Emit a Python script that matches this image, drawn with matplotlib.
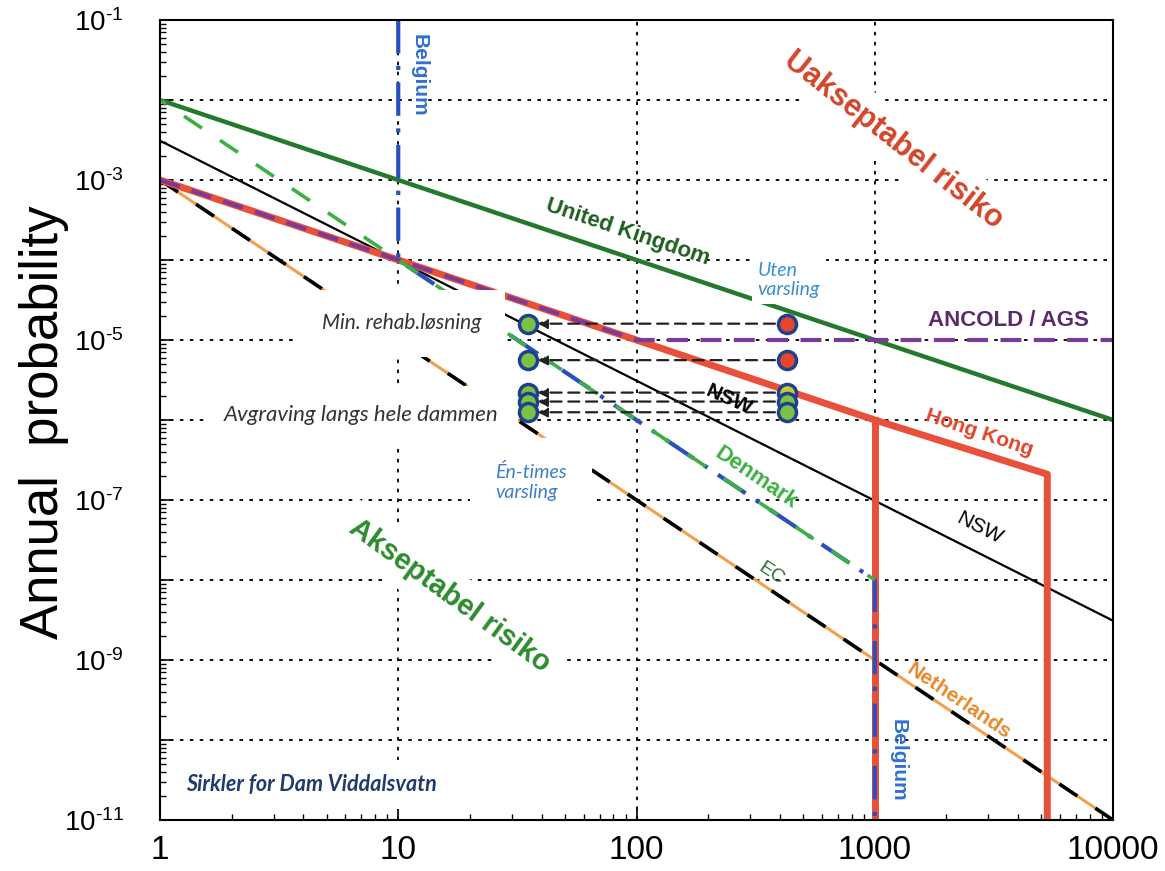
import math
import matplotlib.pyplot as plt
from matplotlib.ticker import LogLocator, FuncFormatter, NullFormatter

plt.rcParams['font.family'] = ['Liberation Sans', 'DejaVu Sans']
plt.rcParams['mathtext.fontset'] = 'custom'
plt.rcParams['mathtext.rm'] = 'Liberation Sans'

# F-N criteria lines (number of fatalities N, annual probability)
uk_n = [1, 10000]
uk_p = [1e-2, 1e-6]

hk_n = [1, 1000, 5300, 5300]
hk_p = [1e-3, 1e-6, 2.1e-7, 1e-11]
hk_drop_n = [1000, 1000]
hk_drop_p = [1e-6, 1e-11]

ancold_n = [1, 100, 10000]
ancold_p = [1e-3, 1e-5, 1e-5]

nsw_n = [1, 10000]
nsw_p = [3.1e-3, 3.1e-9]

denmark_n = [1, 1000]
denmark_p = [1e-2, 1e-8]

belgium_n = [10, 10, 1000, 1000]
belgium_p = [1e-1, 1e-4, 1e-8, 1e-11]

netherlands_n = [1, 10000]
netherlands_p = [1e-3, 1e-11]

# Dam Viddalsvatn points: one-hour warning (left) vs no warning (right)
dam_n_warning = 35
dam_n_no_warning = 430
dam_p = [1.6e-5, 5.6e-6, 2.2e-6, 1.7e-6, 1.25e-6]
dam_colors_no_warning = ['#e8452c', '#e8452c', '#c9c83a', '#7cc242', '#7cc242']

y_ticks = [10.0 ** e for e in range(-11, 0)]
x_ticks = [1, 10, 100, 1000, 10000]


def y_label(v, pos):
    e = int(round(math.log10(v)))
    if e % 2 == 0:
        return ''
    return '$\\mathregular{10^{\u2010%d}}$' % (-e)


def main():
    fig = plt.figure(figsize=(11.65, 8.71), dpi=100)
    ax = fig.add_axes([160 / 1165, 51 / 871, 953 / 1165, 800 / 871])
    ax.set_xscale('log')
    ax.set_yscale('log')
    ax.set_xlim(1, 10000)
    ax.set_ylim(1e-11, 1e-1)

    # lines
    ax.plot(uk_n, uk_p, color='#237a2c', lw=3.2, zorder=2)
    ax.plot(nsw_n, nsw_p, color='black', lw=1.6, zorder=2)
    ax.plot(netherlands_n, netherlands_p, color='#f2a04c', lw=2.2, zorder=2)
    ax.plot(netherlands_n, netherlands_p, color='black', lw=2.6,
            ls=(0, (6, 6)), zorder=2.1)
    ax.plot(hk_n, hk_p, color='#e8503a', lw=5, zorder=2.2)
    ax.plot(hk_drop_n, hk_drop_p, color='#e8503a', lw=5, zorder=2.2)
    ax.plot(ancold_n, ancold_p, color='#7a3a9a', lw=3, ls=(0, (5, 3)),
            zorder=2.3)
    ax.plot(belgium_n, belgium_p, color='#2a4fc0', lw=3,
            ls=(0, (8, 3, 1, 3)), zorder=2.4)
    ax.plot(denmark_n, denmark_p, color='#3cb043', lw=2.6,
            ls=(4, (6, 6)), zorder=2.5)

    # dam points with arrows
    for p, c in zip(dam_p, dam_colors_no_warning):
        ax.annotate('', xy=(dam_n_warning, p), xytext=(dam_n_no_warning, p),
                    arrowprops=dict(arrowstyle='-|>', color='#222222', lw=1.6,
                                    ls=(0, (5, 3)), shrinkA=9, shrinkB=7,
                                    mutation_scale=14),
                    zorder=5)
        ax.plot(dam_n_warning, p, 'o', ms=13, mfc='#7cc242', mec='#1f3f8f',
                mew=2.5, zorder=6)
        ax.plot(dam_n_no_warning, p, 'o', ms=13, mfc=c, mec='#1f3f8f',
                mew=2.5, zorder=6)

    # axes styling
    ax.set_xticks(x_ticks)
    ax.set_xticklabels([str(v) for v in x_ticks])
    ax.set_yticks(y_ticks)
    ax.yaxis.set_major_formatter(FuncFormatter(y_label))
    ax.xaxis.set_minor_locator(LogLocator(base=10, subs=range(2, 10), numticks=20))
    ax.yaxis.set_minor_locator(LogLocator(base=10, subs=range(2, 10), numticks=20))
    ax.xaxis.set_minor_formatter(NullFormatter())
    ax.yaxis.set_minor_formatter(NullFormatter())
    ax.tick_params(which='major', direction='in', length=8, width=1.2)
    ax.tick_params(which='minor', direction='in', length=4, width=1)
    ax.tick_params(axis='y', pad=26, labelsize=20)
    ax.tick_params(axis='x', pad=11, labelsize=24)
    for s in ax.spines.values():
        s.set_linewidth(1.5)
    ax.set_axisbelow(True)
    ax.grid(True, which='major', color='black', lw=1.3, ls=(0, (2, 3.5)))

    fig.text(44 / 1165, 0.515, 'Annual  probability', rotation=90,
             ha='center', va='center', fontsize=38)

    # annotations
    white = dict(facecolor='white', edgecolor='none')
    ax.text(1200, 10 ** -2.5, 'Uakseptabel risiko', color='#d2462a',
            fontsize=22, fontweight='bold', rotation=-38, ha='center',
            va='center', bbox=dict(white, pad=8), zorder=4)
    ax.text(16.5, 10 ** -8.2, 'Akseptabel risiko', color='#2e8b2e',
            fontsize=21, fontweight='bold', rotation=-36, ha='center',
            va='center', bbox=dict(white, pad=8), zorder=4)
    ax.text(92, 2.2e-4, 'United Kingdom', color='#1e5e1e', fontsize=16,
            fontweight='bold', rotation=-18.5, ha='center', va='center',
            zorder=5)
    ax.text(3650, 10 ** -4.76, 'ANCOLD / AGS', color='#5a2a6a', fontsize=16,
            fontweight='bold', ha='center', va='center', zorder=5)
    ax.text(2750, 10 ** -6.16, 'Hong Kong', color='#e0452a', fontsize=15,
            fontweight='bold', rotation=-18.5, ha='center', va='center',
            zorder=5)
    ax.text(245, 10 ** -5.75, 'NSW', color='black', fontsize=15,
            fontweight='bold', rotation=-24, ha='center', va='center',
            zorder=5)
    ax.text(2750, 10 ** -7.35, 'NSW', color='black', fontsize=15,
            rotation=-27, ha='center', va='center', zorder=5)
    ax.text(316, 10 ** -6.72, 'Denmark', color='#3cb043', fontsize=16,
            fontweight='bold', rotation=-34, ha='center', va='center',
            zorder=5)
    ax.text(366, 10 ** -7.92, 'EC', color='#2d6a2d', fontsize=14,
            rotation=-34, ha='center', va='center', zorder=5)
    ax.text(2250, 10 ** -9.52, 'Netherlands', color='#e88a2a', fontsize=15,
            fontweight='bold', rotation=-34, ha='center', va='center',
            zorder=5)
    ax.text(12.2, 10 ** -1.69, 'Belgium', color='#3070d0', fontsize=15,
            fontweight='bold', rotation=-90, ha='center', va='center',
            zorder=5)
    ax.text(1250, 10 ** -10.25, 'Belgium', color='#3070d0', fontsize=15,
            fontweight='bold', rotation=-90, ha='center', va='center',
            zorder=5)

    ital = ['Lato', 'DejaVu Sans']
    ax.text(10.3, 10 ** -4.79, 'Min. rehab.løsning', color='#333333',
            fontsize=15, style='italic', family=ital, ha='center',
            va='center', bbox=dict(white, pad=17), zorder=4)
    ax.text(7.0, 10 ** -5.94, 'Avgraving langs hele dammen',
            color='#333333', fontsize=16, style='italic', family=ital,
            ha='center', va='center', bbox=dict(white, pad=14), zorder=4)
    ax.text(25.6, 10 ** -6.775, 'Én-times\nvarsling', color='#3a7fc8',
            fontsize=14, style='italic', family=ital, ha='left',
            va='center', linespacing=1.2, bbox=dict(white, pad=18), zorder=4)
    ax.text(322, 10 ** -4.25, 'Uten\nvarsling', color='#3a8fd0',
            fontsize=14, style='italic', family=ital, ha='left',
            va='center', linespacing=1.2, bbox=dict(white, pad=4), zorder=4)
    ax.text(1.29, 10 ** -10.56, 'Sirkler for Dam Viddalsvatn',
            color='#1f3a6e', fontsize=15.5, style='italic', fontweight='bold',
            family=ital, ha='left', va='center', bbox=dict(white, pad=10),
            zorder=4)

    fig.savefig('out.png', dpi=100)


if __name__ == '__main__':
    main()
